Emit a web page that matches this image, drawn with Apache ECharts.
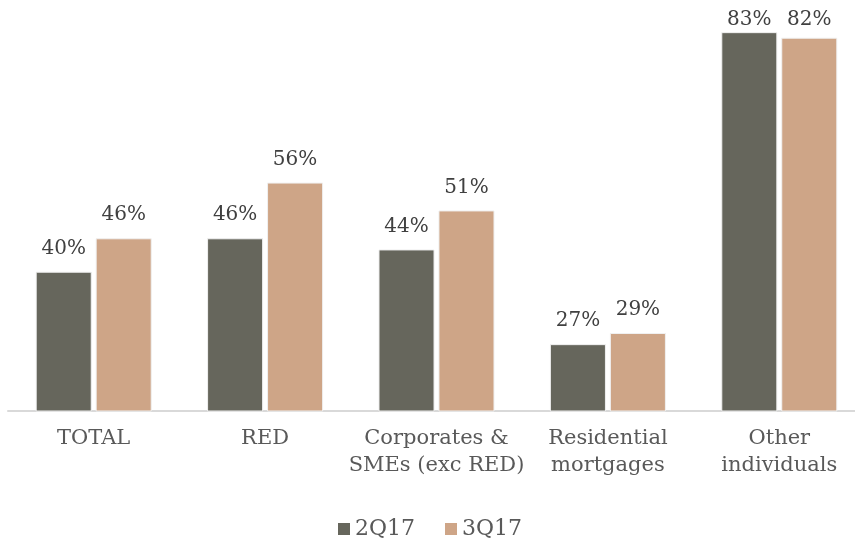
<!DOCTYPE html>
<html>
<head>
<meta charset="utf-8">
<script src="https://cdn.jsdelivr.net/npm/echarts@6/dist/echarts.min.js"></script>
<style>
  html, body { margin: 0; padding: 0; background: #ffffff; overflow: hidden; }
  #chart { width: 865px; height: 544px; }
</style>
</head>
<body>
<div id="chart"></div>
<script>
// Coverage ratio by segment, two quarters
const categories = ['TOTAL', 'RED', 'Corporates &\nSMEs (exc RED)', 'Residential\nmortgages', 'Other\nindividuals'];
const seriesNames = ['2Q17', '3Q17'];
const values2Q17 = [40, 46, 44, 27, 83];
const values3Q17 = [46, 56, 51, 29, 82];

const FONT = '"DejaVu Serif", serif';
const colors = ['#66665c', '#cea587'];
const LABEL_DISTANCE = 13;
const LABEL_MIN_CENTER_Y = 18;   // labels never rise above this line
const LABEL_HALF = 12;           // distance from label centre to its bottom edge

const chart = echarts.init(document.getElementById('chart'));

function barSeries(name, data, color) {
  return {
    name: name,
    type: 'bar',
    data: data.slice(),
    barWidth: '32.7%',
    barGap: '7%',
    itemStyle: { color: color, borderColor: '#f0f0f0', borderWidth: 1 },
    label: {
      show: true,
      position: 'top',
      distance: LABEL_DISTANCE,
      formatter: '{c}%',
      fontFamily: FONT,
      fontSize: 20,
      color: '#404040'
    }
  };
}

const seriesValues = [values2Q17, values3Q17];

chart.setOption({
  animation: false,
  backgroundColor: '#ffffff',
  color: colors,
  grid: { left: 8, right: 0, top: 21, bottom: 133, containLabel: false },
  legend: {
    data: seriesNames,
    top: 518,
    left: 338,
    padding: 0,
    itemWidth: 12,
    itemHeight: 12,
    itemGap: 30,
    icon: 'rect',
    itemStyle: { borderWidth: 0 },
    textStyle: { fontFamily: FONT, fontSize: 22, color: '#595959' }
  },
  xAxis: {
    type: 'category',
    data: categories,
    axisLine: { show: true, lineStyle: { color: '#d9d9d9', width: 2 } },
    axisTick: { show: false },
    axisLabel: {
      interval: 0,
      margin: 14,
      fontFamily: FONT,
      fontSize: 21,
      lineHeight: 27,
      color: '#595959'
    }
  },
  yAxis: {
    type: 'value',
    min: 15,
    max: 85,
    show: false,
    splitLine: { show: false }
  },
  series: [
    barSeries(seriesNames[0], values2Q17, colors[0]),
    barSeries(seriesNames[1], values3Q17, colors[1])
  ]
});

// Pull labels of the tallest bars down so they stay inside the chart.
const adjusted = seriesValues.map(function (vals, si) {
  return {
    data: vals.map(function (v, i) {
      const top = chart.convertToPixel({ xAxisIndex: 0, yAxisIndex: 0 }, [i, v])[1];
      const room = top - LABEL_MIN_CENTER_Y - LABEL_HALF;
      if (room < LABEL_DISTANCE) {
        return { value: v, label: { distance: Math.max(1, room) } };
      }
      return v;
    })
  };
});
chart.setOption({ series: adjusted });
</script>
</body>
</html>
